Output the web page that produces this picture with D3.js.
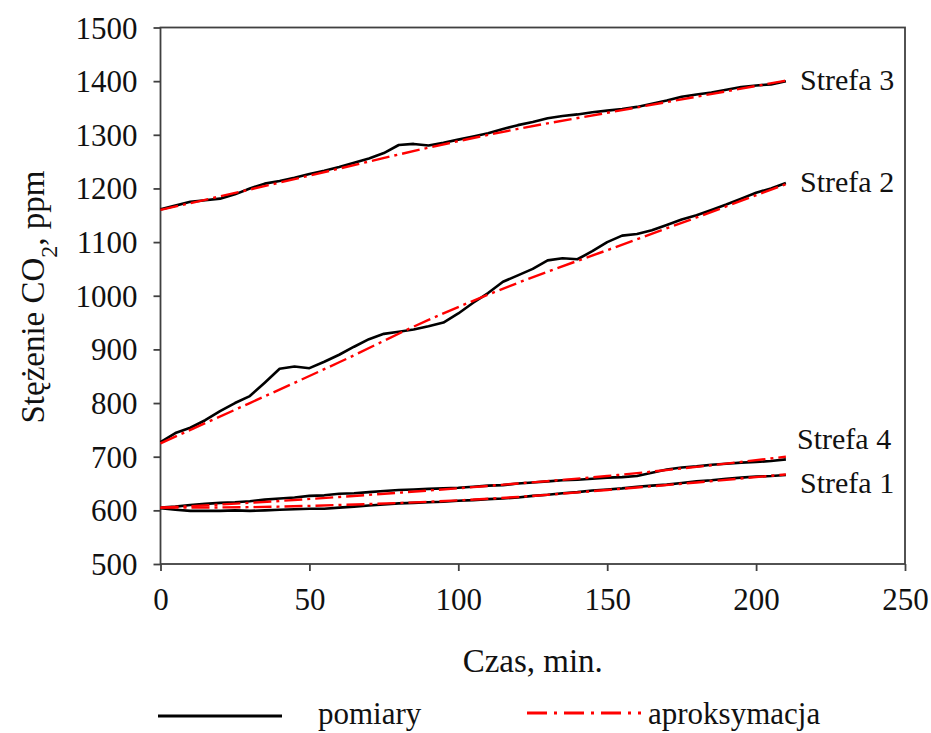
<!DOCTYPE html>
<html>
<head>
<meta charset="utf-8">
<script src="https://cdn.jsdelivr.net/npm/d3@7"></script>
<style>
  body { margin: 0; background: #fff; }
  svg text { font-family: "Liberation Serif", "Times New Roman", Tinos, "DejaVu Serif", "Noto Serif", serif; fill: #111; }
</style>
</head>
<body>
<div id="chart"></div>
<script>
// time grid of the measurements (min)
var timeMeas = d3.range(0, 211, 5);

// measured CO2 concentration, ppm (every 5 min)
var meas3 = [1161,1168,1175,1178,1181,1189,1200,1209,1214,1220,1227,1233,1240,1248,1256,1266,1281,1283,1280,1285,1291,1297,1303,1311,1318,1324,1331,1335,1338,1342,1345,1348,1352,1358,1364,1371,1375,1379,1384,1389,1392,1394,1400];
var meas2 = [727,744,754,768,785,800,813,838,864,868,865,877,890,905,919,929,933,937,943,950,967,987,1005,1026,1038,1050,1066,1070,1068,1083,1100,1112,1115,1122,1132,1142,1150,1160,1170,1181,1192,1200,1210];
var meas4 = [605,607,610,612,614,615,617,620,622,624,627,628,631,632,634,636,638,639,640,641,642,644,646,647,650,652,654,656,657,659,661,662,664,670,676,680,682,685,687,689,690,692,695];
var meas1 = [604,601,599,599,599,600,599,600,601,602,603,603,605,607,609,611,613,614,615,616,618,619,621,622,624,627,629,632,634,637,639,641,644,646,648,651,654,656,659,661,663,664,666];

// approximation curves (every 30 min)
var timeApprox = [0, 30, 60, 90, 120, 150, 180, 210];
var approx3 = [1160, 1198, 1237, 1276, 1311, 1341, 1371, 1401];
var approx2 = [725, 800, 876, 955, 1024, 1085, 1146, 1208];
var approx4 = [605, 614, 625, 637, 650, 664, 681, 700];
var approx1 = [605, 606, 610, 616, 625, 638, 652, 667];

var zoneNames = ["Strefa 3", "Strefa 2", "Strefa 4", "Strefa 1"];
var xTicks = [0, 50, 100, 150, 200, 250];
var yTicks = [500, 600, 700, 800, 900, 1000, 1100, 1200, 1300, 1400, 1500];

var serif = '"Liberation Serif", "Times New Roman", Tinos, "DejaVu Serif", "Noto Serif", serif';

var width = 931, height = 733;
var margin = {left: 160.5, right: 26, top: 27.5, bottom: 169};

var svg = d3.select("#chart").append("svg")
  .attr("width", width)
  .attr("height", height)
  .attr("font-family", serif);

var x = d3.scaleLinear().domain([0, 250]).range([margin.left, width - margin.right]);
var y = d3.scaleLinear().domain([500, 1500]).range([height - margin.bottom, margin.top]);

// axes
var xAxis = svg.append("g")
  .attr("transform", "translate(0," + y(500) + ")")
  .call(d3.axisBottom(x).tickValues(xTicks).tickFormat(d3.format("d"))
    .tickSize(7).tickSizeOuter(0).tickPadding(16));
var yAxis = svg.append("g")
  .attr("transform", "translate(" + x(0) + ",0)")
  .call(d3.axisLeft(y).tickValues(yTicks).tickFormat(d3.format("d"))
    .tickSize(7).tickSizeOuter(0).tickPadding(16));

[xAxis, yAxis].forEach(function(g) {
  g.attr("font-family", serif).attr("font-size", 31);
  g.selectAll("path.domain").remove();
  g.selectAll(".tick line").attr("stroke", "#404040").attr("stroke-width", 1.8);
  g.selectAll(".tick text").attr("fill", "#111");
});
yAxis.selectAll(".tick text").attr("dy", "0.34em");
xAxis.selectAll(".tick text").attr("dy", "0.75em");

// plot frame
svg.append("rect")
  .attr("x", x(0))
  .attr("y", y(1500))
  .attr("width", x(250) - x(0))
  .attr("height", y(500) - y(1500))
  .attr("fill", "none")
  .attr("stroke", "#404040")
  .attr("stroke-width", 1.8);

var line = d3.line()
  .x(d => x(d[0]))
  .y(d => y(d[1]));
var smooth = d3.line()
  .x(d => x(d[0]))
  .y(d => y(d[1]))
  .curve(d3.curveMonotoneX);

var measured = [meas3, meas2, meas4, meas1];
var approx = [approx3, approx2, approx4, approx1];

// measured lines (black)
measured.forEach(function(vals) {
  svg.append("path")
    .datum(vals.map((v, i) => [timeMeas[i], v]))
    .attr("d", line)
    .attr("fill", "none")
    .attr("stroke", "#000")
    .attr("stroke-width", 2.6)
    .attr("stroke-linejoin", "round");
});

// approximation lines (red dash-dot)
approx.forEach(function(vals) {
  svg.append("path")
    .datum(vals.map((v, i) => [timeApprox[i], v]))
    .attr("d", smooth)
    .attr("fill", "none")
    .attr("stroke", "#ff0000")
    .attr("stroke-width", 2.4)
    .attr("stroke-dasharray", "18,5,3,5");
});

// zone labels
var labelPos = [[800, 90], [800, 192], [797, 449], [800, 493]];
zoneNames.forEach(function(name, i) {
  svg.append("text")
    .attr("x", labelPos[i][0])
    .attr("y", labelPos[i][1])
    .attr("font-size", 30)
    .text(name);
});

// axis titles
svg.append("text")
  .attr("x", (x(0) + x(250)) / 2)
  .attr("y", 672)
  .attr("text-anchor", "middle")
  .attr("font-size", 33)
  .text("Czas, min.");

var yTitle = svg.append("text")
  .attr("transform", "translate(44," + 297 + ") rotate(-90)")
  .attr("text-anchor", "middle")
  .attr("font-size", 33);
yTitle.append("tspan").text("Stężenie CO");
yTitle.append("tspan").attr("baseline-shift", "sub").attr("font-size", 24).text("2");
yTitle.append("tspan").text(", ppm");

// legend
var legend = svg.append("g");
legend.append("line")
  .attr("x1", 158).attr("x2", 282).attr("y1", 716).attr("y2", 716)
  .attr("stroke", "#000").attr("stroke-width", 3);
legend.append("text")
  .attr("x", 318).attr("y", 724)
  .attr("font-size", 31)
  .text("pomiary");
legend.append("line")
  .attr("x1", 527).attr("x2", 641).attr("y1", 713).attr("y2", 713)
  .attr("stroke", "#ff0000").attr("stroke-width", 3)
  .attr("stroke-dasharray", "20,7,3,7");
legend.append("text")
  .attr("x", 648).attr("y", 724)
  .attr("font-size", 31)
  .text("aproksymacja");
</script>
</body>
</html>
